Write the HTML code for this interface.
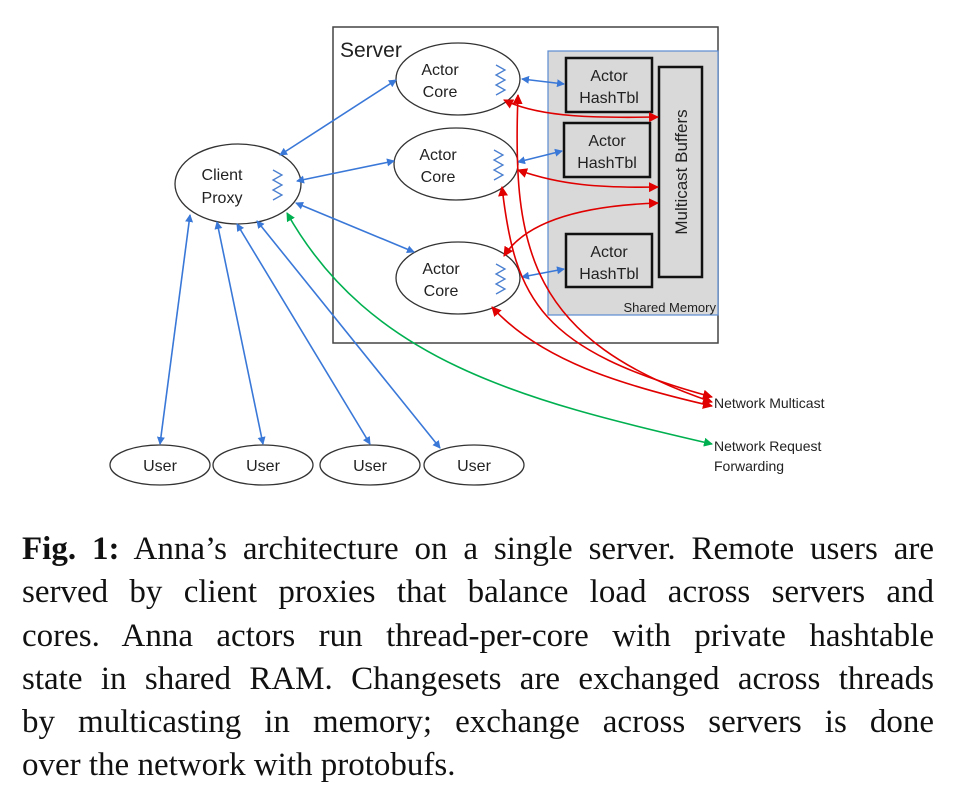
<!DOCTYPE html>
<html><head><style>
body{margin:0;background:#fff;width:954px;height:796px;overflow:hidden;position:relative}
.cap{position:absolute;left:22px;top:528px;width:912px;font-family:"Liberation Serif",serif;font-size:33px;line-height:43.3px;color:#111}
.cap div{text-align:justify;text-align-last:justify;white-space:nowrap;height:43.3px}
.cap div.l{text-align-last:left}
svg text{font-family:"Liberation Sans",sans-serif}
</style></head><body>
<svg width="954" height="520" style="position:absolute;left:0;top:0">
<defs>
<marker id="b" markerWidth="8" markerHeight="8" refX="7" refY="4" orient="auto-start-reverse" markerUnits="userSpaceOnUse"><path d="M0,0L8,4L0,8z" fill="#3a78d8"/></marker>
<marker id="r" markerWidth="10" markerHeight="10" refX="9" refY="5" orient="auto-start-reverse" markerUnits="userSpaceOnUse"><path d="M0,0L10,5L0,10z" fill="#e00000"/></marker>
<marker id="g" markerWidth="9" markerHeight="9" refX="8" refY="4.5" orient="auto-start-reverse" markerUnits="userSpaceOnUse"><path d="M0,0L9,4.5L0,9z" fill="#00b050"/></marker>
</defs>
<rect x="333" y="27" width="385" height="316" fill="#fff" stroke="#444" stroke-width="1.5"/>
<text x="340" y="57" font-size="21" fill="#222">Server</text>
<rect x="548" y="51" width="170" height="264" fill="#d9d9d9" stroke="#5b8bd0" stroke-width="1.2"/>
<text x="716" y="312" font-size="13" text-anchor="end" fill="#222">Shared Memory</text>
<g fill="#d9d9d9" stroke="#111" stroke-width="2.5">
<rect x="566" y="58" width="86" height="54"/><rect x="564" y="123" width="86" height="54"/><rect x="566" y="234" width="86" height="53"/><rect x="659" y="67" width="43" height="210"/>
</g>
<g font-size="16" fill="#222" text-anchor="middle">
<text x="609" y="81">Actor</text><text x="609" y="103">HashTbl</text>
<text x="607" y="146">Actor</text><text x="607" y="168">HashTbl</text>
<text x="609" y="257">Actor</text><text x="609" y="279">HashTbl</text>
<text transform="translate(687,172) rotate(-90)" font-size="17">Multicast Buffers</text>
</g>
<g fill="#fff" stroke="#333" stroke-width="1.3">
<ellipse cx="458" cy="79" rx="62" ry="36"/><ellipse cx="456" cy="164" rx="62" ry="36"/><ellipse cx="458" cy="278" rx="62" ry="36"/>
<ellipse cx="238" cy="184" rx="63" ry="40"/>
<ellipse cx="160" cy="465" rx="50" ry="20"/><ellipse cx="263" cy="465" rx="50" ry="20"/><ellipse cx="370" cy="465" rx="50" ry="20"/><ellipse cx="474" cy="465" rx="50" ry="20"/>
</g>
<g font-size="16" fill="#222" text-anchor="middle">
<text x="440" y="75">Actor</text><text x="440" y="97">Core</text>
<text x="438" y="160">Actor</text><text x="438" y="182">Core</text>
<text x="441" y="274">Actor</text><text x="441" y="296">Core</text>
<text x="222" y="180">Client</text><text x="222" y="203">Proxy</text>
<text x="160" y="471">User</text><text x="263" y="471">User</text><text x="370" y="471">User</text><text x="474" y="471">User</text>
</g>
<g fill="none" stroke="#4a7fd0" stroke-width="1.3">
<path d="M496,65l9,5-9,5 9,5-9,5 9,5-9,5"/><path d="M494,150l9,5-9,5 9,5-9,5 9,5-9,5"/><path d="M496,264l9,5-9,5 9,5-9,5 9,5-9,5"/><path d="M273,170l9,5-9,5 9,5-9,5 9,5-9,5"/>
</g>
<g stroke="#3a78d8" stroke-width="1.6" fill="none" marker-start="url(#b)" marker-end="url(#b)">
<line x1="280" y1="155" x2="396" y2="80"/>
<line x1="297" y1="181" x2="394" y2="161"/>
<line x1="296" y1="203" x2="414" y2="252"/>
<line x1="522" y1="79" x2="564" y2="84"/>
<line x1="518" y1="162" x2="562" y2="151"/>
<line x1="522" y1="277" x2="564" y2="269"/>
<line x1="190" y1="215" x2="160" y2="444"/>
<line x1="217" y1="222" x2="263" y2="444"/>
<line x1="237" y1="224" x2="370" y2="444"/>
<line x1="257" y1="221" x2="440" y2="448"/>
</g>
<path d="M287,213C370,360 520,400 712,444" stroke="#00b050" stroke-width="1.6" fill="none" marker-start="url(#g)" marker-end="url(#g)"/>
<g stroke="#e00000" stroke-width="1.6" fill="none" marker-start="url(#r)" marker-end="url(#r)">
<path d="M504,100C540,118 600,118 658,117"/>
<path d="M518,170C560,185 600,188 658,187"/>
<path d="M504,256C530,215 600,205 658,203"/>
<path d="M518,95C512,250 530,340 712,402"/>
<path d="M502,187C515,300 540,350 712,397"/>
<path d="M492,307C540,360 620,385 712,406"/>
</g>
<text x="714" y="408" font-size="14" fill="#222">Network Multicast</text>
<text x="714" y="451" font-size="14" fill="#222">Network Request</text>
<text x="714" y="471" font-size="14" fill="#222">Forwarding</text>
</svg>
<div class="cap">
<div><b>Fig. 1:</b> Anna’s architecture on a single server. Remote users are</div>
<div>served by client proxies that balance load across servers and</div>
<div>cores. Anna actors run thread-per-core with private hashtable</div>
<div>state in shared RAM. Changesets are exchanged across threads</div>
<div>by multicasting in memory; exchange across servers is done</div>
<div class="l">over the network with protobufs.</div>
</div>
</body></html>
